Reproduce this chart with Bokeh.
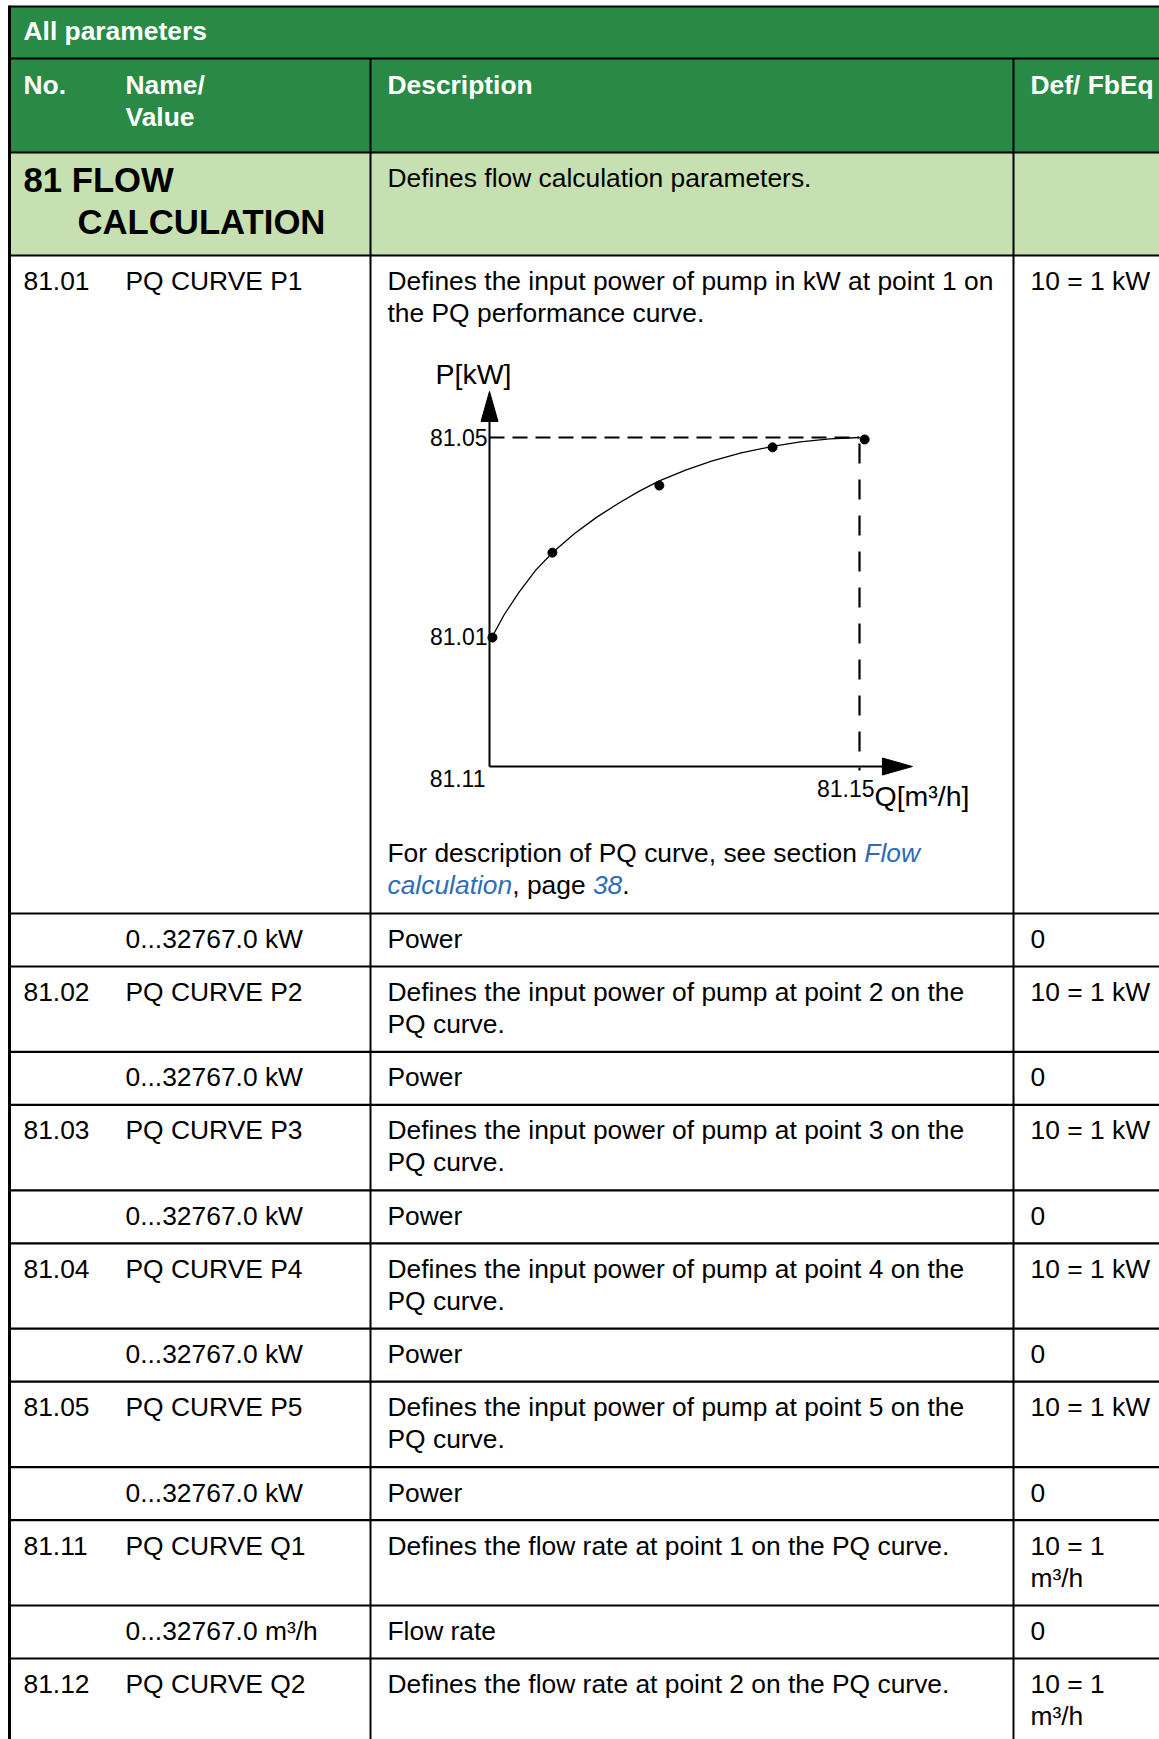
from bokeh.plotting import figure
from bokeh.models import Range1d, ColumnDataSource
from bokeh.core.properties import value
from bokeh.embed import file_html
from bokeh.resources import INLINE

# ----------------------------- data -----------------------------
table_title = "All parameters"
head_no = "No."
head_name = ["Name/", "Value"]
head_desc = "Description"
head_def = "Def/ FbEq"
group_title = ["81 FLOW", "CALCULATION"]
group_desc = "Defines flow calculation parameters."

row_no = ["81.01", "", "81.02", "", "81.03", "", "81.04", "", "81.05", "", "81.11", "", "81.12"]
row_name = ["PQ CURVE P1", "0...32767.0 kW", "PQ CURVE P2", "0...32767.0 kW",
            "PQ CURVE P3", "0...32767.0 kW", "PQ CURVE P4", "0...32767.0 kW",
            "PQ CURVE P5", "0...32767.0 kW", "PQ CURVE Q1", "0...32767.0 m³/h",
            "PQ CURVE Q2"]
row_desc = [
    ["Defines the input power of pump in kW at point 1 on", "the PQ performance curve."],
    ["Power"],
    ["Defines the input power of pump at point 2 on the", "PQ curve."],
    ["Power"],
    ["Defines the input power of pump at point 3 on the", "PQ curve."],
    ["Power"],
    ["Defines the input power of pump at point 4 on the", "PQ curve."],
    ["Power"],
    ["Defines the input power of pump at point 5 on the", "PQ curve."],
    ["Power"],
    ["Defines the flow rate at point 1 on the PQ curve."],
    ["Flow rate"],
    ["Defines the flow rate at point 2 on the PQ curve."],
]
row_def = [["10 = 1 kW"], ["0"], ["10 = 1 kW"], ["0"], ["10 = 1 kW"], ["0"],
           ["10 = 1 kW"], ["0"], ["10 = 1 kW"], ["0"], ["10 = 1", "m³/h"], ["0"],
           ["10 = 1", "m³/h"]]

# reference paragraph (plain / link segments)
ref_line1 = ["For description of PQ curve, see section ", "Flow"]
ref_line2 = ["calculation", ", page ", "38", "."]
ref_line1_link = [False, True]
ref_line2_link = [True, False, True, False]

# PQ chart (values relative to Q5 / P5)
point_q = [0.008, 0.170, 0.459, 0.765, 1.014]
point_p = [0.392, 0.650, 0.854, 0.970, 0.994]
curve_q = [0.0065, 0.04, 0.08, 0.125, 0.172, 0.23, 0.29, 0.35, 0.405, 0.459,
           0.53, 0.60, 0.68, 0.765, 0.84, 0.92, 1.0]
curve_p = [0.393, 0.462, 0.530, 0.597, 0.652, 0.708, 0.758, 0.801, 0.837, 0.868,
           0.901, 0.928, 0.953, 0.973, 0.987, 0.996, 1.0]
p_tick_values = [0.395, 1.0]
p_tick_labels = ["81.01", "81.05"]
q_tick_values = [0.0, 1.0]
q_tick_labels = ["81.11", "81.15"]
p_axis_label = "P[kW]"
q_axis_label = "Q[m³/h]"

# ----------------------------- style / layout -----------------------------
FONT = "Liberation Sans"
GREEN = "#288A45"
LIGHT = "#C6E0B1"
LINK = "#2E6DB6"
W, H = 1159, 1739
X_L, X_C1, X_C2, X_R = 9, 370, 1013, W
TX_NO, TX_NAME, TX_DESC, TX_DEF = 23, 125, 387, 1030
BODY = 26.4

p = figure(width=W, height=H, x_range=Range1d(0, W), y_range=Range1d(H, 0),
           output_backend="svg", toolbar_location=None, min_border=0,
           x_axis_location=None, y_axis_location=None,
           background_fill_color="white", border_fill_color="white",
           outline_line_color=None)
p.grid.visible = False

# chart ranges placed inside the 81.01 cell
QX0, QPX = 489.0, 370.0
PY0, PPX = 766.0, 329.0
p.extra_x_ranges = {"q": Range1d((0 - QX0) / QPX, (W - QX0) / QPX)}
p.extra_y_ranges = {"p": Range1d((PY0 - H) / PPX, (PY0 - 0) / PPX)}


def txt(xs, ys, texts, size, color="black", style="normal", align="left", chart=False):
    src = ColumnDataSource(dict(x=xs, y=ys, t=texts))
    kw = dict(x_range_name="q", y_range_name="p") if chart else {}
    p.text("x", "y", text="t", source=src, text_font=value(FONT),
           text_font_size=value(f"{size}px"), text_color=color,
           text_font_style=style, text_align=align, text_baseline="alphabetic", **kw)


AW = {' ': 278, ',': 278, '.': 278, 'F': 611, 'P': 667, 'Q': 778, 'a': 556, 'c': 500,
      'd': 556, 'e': 556, 'f': 278, 'g': 556, 'i': 222, 'l': 222, 'n': 556, 'o': 556,
      'p': 556, 'r': 333, 's': 500, 't': 278, 'u': 556, 'v': 500, 'w': 722, '3': 556,
      '8': 556}


def width(s, size):
    return sum(AW.get(ch, 556) for ch in s) * size / 1000.0


# ----------------------------- backgrounds -----------------------------
p.quad(left=[X_L, X_L, X_L], right=[X_R, X_R, X_R], top=[6, 58, 152],
       bottom=[58, 152, 255], fill_color=[GREEN, GREEN, LIGHT], line_color=None)

# ----------------------------- rows geometry -----------------------------
CHART_ROW_H = 658.0
row_tops = []
y = 255.0
for i in range(len(row_no)):
    row_tops.append(y)
    n = max(len(row_desc[i]), len(row_def[i]))
    y += CHART_ROW_H if i == 0 else 53.0 + 32.4 * (n - 1)

hl = [6, 58, 152, 255] + row_tops[1:]
p.segment(x0=[X_L] * len(hl), x1=[X_R] * len(hl), y0=hl, y1=hl,
          line_color="black", line_width=2.2)
p.segment(x0=[X_L], x1=[X_L], y0=[5], y1=[H], line_color="black", line_width=3)
p.segment(x0=[X_C1, X_C2], x1=[X_C1, X_C2], y0=[58, 58], y1=[H, H],
          line_color="black", line_width=2)

# ----------------------------- header texts -----------------------------
txt([TX_NO], [30], [table_title], BODY, "white", "bold")
txt([TX_NO, TX_NAME, TX_NAME, TX_DESC, TX_DEF], [84, 84, 116, 84, 84],
    [head_no, head_name[0], head_name[1], head_desc, head_def], BODY, "white", "bold")
txt([TX_NO, 77], [179, 221], group_title, 34.7, "black", "bold")
txt([TX_DESC], [177], [group_desc], BODY)

# ----------------------------- body texts -----------------------------
xs, ys, ts = [], [], []
for i, top in enumerate(row_tops):
    base = top + 25.5
    if row_no[i]:
        xs.append(TX_NO); ys.append(base); ts.append(row_no[i])
    xs.append(TX_NAME); ys.append(base); ts.append(row_name[i])
    for k, line in enumerate(row_desc[i]):
        xs.append(TX_DESC); ys.append(base + 32 * k); ts.append(line)
    for k, line in enumerate(row_def[i]):
        xs.append(TX_DEF); ys.append(base + 32 * k); ts.append(line)
txt(xs, ys, ts, BODY)

# reference paragraph with links
for segs, links, yb in ((ref_line1, ref_line1_link, row_tops[0] + 597),
                        (ref_line2, ref_line2_link, row_tops[0] + 629)):
    x = TX_DESC
    for s, lk in zip(segs, links):
        if lk:
            txt([x], [yb], [s], BODY, LINK, "italic")
        else:
            txt([x], [yb], [s], BODY)
        x += width(s, BODY)

# ----------------------------- PQ chart -----------------------------
AX_Q, AX_P = 1.143, 1.14
HEAD_L, HEAD_W = 30.0, 17.0
p.line([0, 0], [0, AX_P - HEAD_L / PPX], x_range_name="q", y_range_name="p",
       line_color="black", line_width=2)
p.line([0, AX_Q - HEAD_L / QPX], [0, 0], x_range_name="q", y_range_name="p",
       line_color="black", line_width=2)
p.patch([0, -HEAD_W / 2 / QPX, HEAD_W / 2 / QPX],
        [AX_P, AX_P - HEAD_L / PPX, AX_P - HEAD_L / PPX],
        x_range_name="q", y_range_name="p", fill_color="black", line_color="black")
p.patch([AX_Q, AX_Q - HEAD_L / QPX, AX_Q - HEAD_L / QPX],
        [0, HEAD_W / 2 / PPX, -HEAD_W / 2 / PPX],
        x_range_name="q", y_range_name="p", fill_color="black", line_color="black")

# guide lines to P5 / Q5
p.line([0, q_tick_values[1]], [p_tick_values[1], p_tick_values[1]],
       x_range_name="q", y_range_name="p", line_color="black", line_width=2.2,
       line_dash="15 8")
p.line([q_tick_values[1], q_tick_values[1]], [p_tick_values[1] - 6 / PPX, -4 / PPX],
       x_range_name="q", y_range_name="p", line_color="black", line_width=2.2,
       line_dash="20 16")

p.line(curve_q, curve_p, x_range_name="q", y_range_name="p",
       line_color="black", line_width=1.3)
p.scatter(point_q, point_p, x_range_name="q", y_range_name="p", size=9,
          fill_color="black", line_color="black")

TICK = 23
txt([-2 / QPX, -2 / QPX], p_tick_values, p_tick_labels, TICK, align="right", chart=True)
txt([q_tick_values[0] - 4 / QPX], [-12 / PPX], [q_tick_labels[0]], TICK,
    align="right", chart=True)
txt([q_tick_values[1] + 15 / QPX], [-22 / PPX], [q_tick_labels[1]], TICK,
    align="right", chart=True)
txt([q_tick_values[1] + 15 / QPX], [-29 / PPX], [q_axis_label], 28.5, chart=True)
txt([-54 / QPX], [AX_P + 17 / PPX], [p_axis_label], 28.5, chart=True)

open("out.html", "w").write(file_html(p, INLINE))
